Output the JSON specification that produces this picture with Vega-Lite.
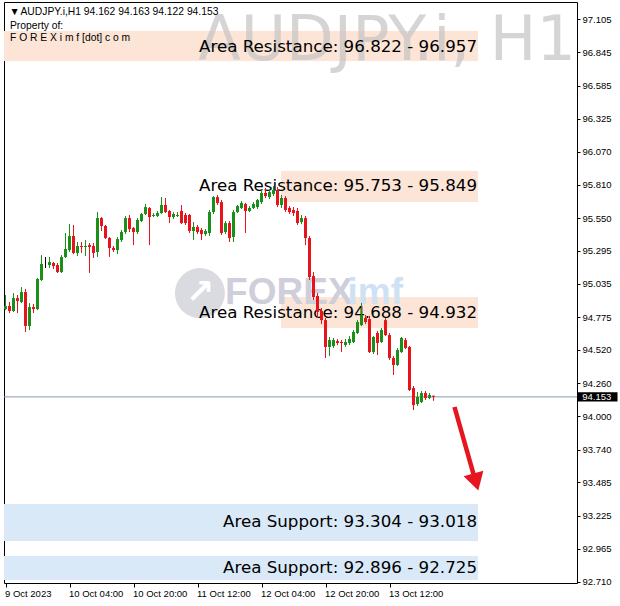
{
  "$schema": "https://vega.github.io/schema/vega-lite/v6.json",
  "width": 573,
  "height": 581,
  "autosize": {"type": "none"},
  "padding": {"left": 4, "top": 2, "right": 43, "bottom": 23},
  "background": "#ffffff",
  "config": {
    "view": {"stroke": "#000000", "strokeWidth": 1},
    "axis": {"grid": false, "domain": false, "labelFont": "Liberation Sans", "labelFontSize": 9.5, "labelColor": "#000000", "tickColor": "#000000"}
  },
  "datasets": {
    "bands": [
      {"t": "2023-10-09T11:37:30Z", "t2": "2023-10-14T10:07:30Z", "p": 97.011, "p2": 96.777, "kind": "Resistance"},
      {"t": "2023-10-12T08:52:30Z", "t2": "2023-10-14T10:07:30Z", "p": 95.917, "p2": 95.675, "kind": "Resistance"},
      {"t": "2023-10-12T08:52:30Z", "t2": "2023-10-14T10:07:30Z", "p": 94.933, "p2": 94.691, "kind": "Resistance"},
      {"t": "2023-10-09T11:37:30Z", "t2": "2023-10-14T10:07:30Z", "p": 93.316, "p2": 93.027, "kind": "Support"},
      {"t": "2023-10-09T11:37:30Z", "t2": "2023-10-14T10:07:30Z", "p": 92.910, "p2": 92.722, "kind": "Support"}
    ],
    "bandLabels": [
      {"t": "2023-10-14T09:52:30Z", "p": 96.886, "label": "Area Resistance: 96.822 - 96.957"},
      {"t": "2023-10-14T09:52:30Z", "p": 95.800, "label": "Area Resistance: 95.753 - 95.849"},
      {"t": "2023-10-14T09:52:30Z", "p": 94.808, "label": "Area Resistance: 94.688 - 94.932"},
      {"t": "2023-10-14T09:52:30Z", "p": 93.175, "label": "Area Support: 93.304 - 93.018"},
      {"t": "2023-10-14T09:52:30Z", "p": 92.816, "label": "Area Support: 92.896 - 92.725"}
    ],
    "header": [
      {"t": "2023-10-09T13:00:00Z", "p": 97.160, "label": "▼"},
      {"t": "2023-10-09T15:45:00Z", "p": 97.160, "label": "AUDJPY.i,H1  94.162 94.163 94.122 94.153"},
      {"t": "2023-10-09T13:07:30Z", "p": 97.052, "label": "Property of:"},
      {"t": "2023-10-09T13:07:30Z", "p": 96.959, "label": "F O R E X i m f [dot] c o m"}
    ],
    "watermark": [
      {"t": "2023-10-15T10:36:00Z", "p": 96.783, "label": "AUDJPY.i,  H1"}
    ],
    "logoCircle": [{"t": "2023-10-11T12:36:00Z", "p": 94.964}],
    "logoArrow": [{"t": "2023-10-11T12:36:00Z", "p": 94.964, "label": "↗"}],
    "logoForex": [{"t": "2023-10-11T18:54:00Z", "p": 94.964, "label": "FOREX"}],
    "logoImf": [{"t": "2023-10-13T01:30:00Z", "p": 94.964, "label": "imf"}],
    "lastPrice": [{"p": 94.153}],
    "priceBox": [{"t": "2023-10-15T11:06:00Z", "t2": "2023-10-15T21:00:00Z", "p": 94.190, "p2": 94.116}],
    "priceBoxText": [{"t": "2023-10-15T12:12:00Z", "p": 94.153, "label": "94.153"}],
    "arrowLine": [{"t": "2023-10-14T04:15:00Z", "t2": "2023-10-14T09:00:00Z", "p": 94.074, "p2": 93.550}],
    "arrowHead": [{"t": "2023-10-14T09:36:00Z", "p": 93.488}],
    "candles": [
      {"t": "2023-10-09T12:00Z", "o": 94.839, "h": 94.949, "l": 94.831, "c": 94.863},
      {"t": "2023-10-09T13:00Z", "o": 94.863, "h": 94.894, "l": 94.808, "c": 94.824},
      {"t": "2023-10-09T14:00Z", "o": 94.824, "h": 94.964, "l": 94.816, "c": 94.925},
      {"t": "2023-10-09T15:00Z", "o": 94.925, "h": 94.949, "l": 94.808, "c": 94.902},
      {"t": "2023-10-09T16:00Z", "o": 94.894, "h": 95.011, "l": 94.886, "c": 94.972},
      {"t": "2023-10-09T17:00Z", "o": 94.972, "h": 94.996, "l": 94.660, "c": 94.707},
      {"t": "2023-10-09T18:00Z", "o": 94.707, "h": 94.886, "l": 94.675, "c": 94.855},
      {"t": "2023-10-09T19:00Z", "o": 94.855, "h": 94.878, "l": 94.808, "c": 94.839},
      {"t": "2023-10-09T20:00Z", "o": 94.839, "h": 95.082, "l": 94.831, "c": 95.074},
      {"t": "2023-10-09T21:00Z", "o": 95.066, "h": 95.261, "l": 95.058, "c": 95.191},
      {"t": "2023-10-09T22:00Z", "o": 95.191, "h": 95.246, "l": 95.160, "c": 95.191},
      {"t": "2023-10-09T23:00Z", "o": 95.183, "h": 95.246, "l": 95.160, "c": 95.207},
      {"t": "2023-10-10T00:00Z", "o": 95.199, "h": 95.207, "l": 95.152, "c": 95.175},
      {"t": "2023-10-10T01:00Z", "o": 95.183, "h": 95.199, "l": 95.121, "c": 95.128},
      {"t": "2023-10-10T02:00Z", "o": 95.128, "h": 95.261, "l": 95.121, "c": 95.246},
      {"t": "2023-10-10T03:00Z", "o": 95.246, "h": 95.433, "l": 95.238, "c": 95.308},
      {"t": "2023-10-10T04:00Z", "o": 95.300, "h": 95.503, "l": 95.285, "c": 95.410},
      {"t": "2023-10-10T05:00Z", "o": 95.410, "h": 95.496, "l": 95.269, "c": 95.277},
      {"t": "2023-10-10T06:00Z", "o": 95.277, "h": 95.363, "l": 95.253, "c": 95.332},
      {"t": "2023-10-10T07:00Z", "o": 95.332, "h": 95.363, "l": 95.277, "c": 95.324},
      {"t": "2023-10-10T08:00Z", "o": 95.324, "h": 95.378, "l": 95.253, "c": 95.332},
      {"t": "2023-10-10T09:00Z", "o": 95.339, "h": 95.355, "l": 95.121, "c": 95.324},
      {"t": "2023-10-10T10:00Z", "o": 95.332, "h": 95.355, "l": 95.238, "c": 95.277},
      {"t": "2023-10-10T11:00Z", "o": 95.285, "h": 95.597, "l": 95.246, "c": 95.550},
      {"t": "2023-10-10T12:00Z", "o": 95.550, "h": 95.558, "l": 95.449, "c": 95.488},
      {"t": "2023-10-10T13:00Z", "o": 95.488, "h": 95.496, "l": 95.386, "c": 95.394},
      {"t": "2023-10-10T14:00Z", "o": 95.394, "h": 95.402, "l": 95.246, "c": 95.316},
      {"t": "2023-10-10T15:00Z", "o": 95.316, "h": 95.332, "l": 95.285, "c": 95.300},
      {"t": "2023-10-10T16:00Z", "o": 95.300, "h": 95.402, "l": 95.269, "c": 95.386},
      {"t": "2023-10-10T17:00Z", "o": 95.378, "h": 95.457, "l": 95.363, "c": 95.441},
      {"t": "2023-10-10T18:00Z", "o": 95.441, "h": 95.566, "l": 95.425, "c": 95.550},
      {"t": "2023-10-10T19:00Z", "o": 95.550, "h": 95.574, "l": 95.441, "c": 95.464},
      {"t": "2023-10-10T20:00Z", "o": 95.472, "h": 95.480, "l": 95.339, "c": 95.441},
      {"t": "2023-10-10T21:00Z", "o": 95.441, "h": 95.550, "l": 95.425, "c": 95.535},
      {"t": "2023-10-10T22:00Z", "o": 95.527, "h": 95.589, "l": 95.519, "c": 95.582},
      {"t": "2023-10-10T23:00Z", "o": 95.582, "h": 95.660, "l": 95.574, "c": 95.636},
      {"t": "2023-10-11T00:00Z", "o": 95.629, "h": 95.636, "l": 95.339, "c": 95.558},
      {"t": "2023-10-11T01:00Z", "o": 95.566, "h": 95.589, "l": 95.558, "c": 95.574},
      {"t": "2023-10-11T02:00Z", "o": 95.566, "h": 95.605, "l": 95.558, "c": 95.589},
      {"t": "2023-10-11T03:00Z", "o": 95.589, "h": 95.714, "l": 95.582, "c": 95.652},
      {"t": "2023-10-11T04:00Z", "o": 95.652, "h": 95.707, "l": 95.589, "c": 95.597},
      {"t": "2023-10-11T05:00Z", "o": 95.605, "h": 95.613, "l": 95.511, "c": 95.558},
      {"t": "2023-10-11T06:00Z", "o": 95.558, "h": 95.597, "l": 95.543, "c": 95.582},
      {"t": "2023-10-11T07:00Z", "o": 95.566, "h": 95.597, "l": 95.558, "c": 95.574},
      {"t": "2023-10-11T08:00Z", "o": 95.605, "h": 95.652, "l": 95.503, "c": 95.511},
      {"t": "2023-10-11T09:00Z", "o": 95.574, "h": 95.589, "l": 95.496, "c": 95.511},
      {"t": "2023-10-11T10:00Z", "o": 95.574, "h": 95.582, "l": 95.433, "c": 95.449},
      {"t": "2023-10-11T11:00Z", "o": 95.449, "h": 95.519, "l": 95.378, "c": 95.480},
      {"t": "2023-10-11T12:00Z", "o": 95.480, "h": 95.496, "l": 95.425, "c": 95.441},
      {"t": "2023-10-11T13:00Z", "o": 95.457, "h": 95.472, "l": 95.378, "c": 95.425},
      {"t": "2023-10-11T14:00Z", "o": 95.425, "h": 95.464, "l": 95.410, "c": 95.449},
      {"t": "2023-10-11T15:00Z", "o": 95.433, "h": 95.613, "l": 95.410, "c": 95.597},
      {"t": "2023-10-11T16:00Z", "o": 95.597, "h": 95.722, "l": 95.582, "c": 95.714},
      {"t": "2023-10-11T17:00Z", "o": 95.714, "h": 95.730, "l": 95.652, "c": 95.668},
      {"t": "2023-10-11T18:00Z", "o": 95.675, "h": 95.691, "l": 95.418, "c": 95.433},
      {"t": "2023-10-11T19:00Z", "o": 95.441, "h": 95.527, "l": 95.425, "c": 95.511},
      {"t": "2023-10-11T20:00Z", "o": 95.511, "h": 95.527, "l": 95.363, "c": 95.394},
      {"t": "2023-10-11T21:00Z", "o": 95.402, "h": 95.613, "l": 95.363, "c": 95.597},
      {"t": "2023-10-11T22:00Z", "o": 95.597, "h": 95.652, "l": 95.589, "c": 95.644},
      {"t": "2023-10-11T23:00Z", "o": 95.629, "h": 95.683, "l": 95.621, "c": 95.668},
      {"t": "2023-10-12T00:00Z", "o": 95.660, "h": 95.668, "l": 95.433, "c": 95.605},
      {"t": "2023-10-12T01:00Z", "o": 95.605, "h": 95.644, "l": 95.597, "c": 95.629},
      {"t": "2023-10-12T02:00Z", "o": 95.629, "h": 95.675, "l": 95.621, "c": 95.660},
      {"t": "2023-10-12T03:00Z", "o": 95.636, "h": 95.699, "l": 95.621, "c": 95.691},
      {"t": "2023-10-12T04:00Z", "o": 95.675, "h": 95.761, "l": 95.660, "c": 95.746},
      {"t": "2023-10-12T05:00Z", "o": 95.746, "h": 95.785, "l": 95.707, "c": 95.722},
      {"t": "2023-10-12T06:00Z", "o": 95.714, "h": 95.777, "l": 95.699, "c": 95.753},
      {"t": "2023-10-12T07:00Z", "o": 95.738, "h": 95.800, "l": 95.722, "c": 95.769},
      {"t": "2023-10-12T08:00Z", "o": 95.769, "h": 95.792, "l": 95.636, "c": 95.652},
      {"t": "2023-10-12T09:00Z", "o": 95.652, "h": 95.730, "l": 95.629, "c": 95.707},
      {"t": "2023-10-12T10:00Z", "o": 95.707, "h": 95.722, "l": 95.597, "c": 95.613},
      {"t": "2023-10-12T11:00Z", "o": 95.629, "h": 95.644, "l": 95.582, "c": 95.597},
      {"t": "2023-10-12T12:00Z", "o": 95.613, "h": 95.636, "l": 95.566, "c": 95.589},
      {"t": "2023-10-12T13:00Z", "o": 95.605, "h": 95.629, "l": 95.496, "c": 95.511},
      {"t": "2023-10-12T14:00Z", "o": 95.519, "h": 95.574, "l": 95.503, "c": 95.550},
      {"t": "2023-10-12T15:00Z", "o": 95.550, "h": 95.566, "l": 95.339, "c": 95.394},
      {"t": "2023-10-12T16:00Z", "o": 95.394, "h": 95.410, "l": 95.066, "c": 95.089},
      {"t": "2023-10-12T17:00Z", "o": 95.097, "h": 95.128, "l": 94.910, "c": 94.933},
      {"t": "2023-10-12T18:00Z", "o": 94.941, "h": 94.964, "l": 94.769, "c": 94.816},
      {"t": "2023-10-12T19:00Z", "o": 94.824, "h": 94.847, "l": 94.722, "c": 94.753},
      {"t": "2023-10-12T20:00Z", "o": 94.753, "h": 94.769, "l": 94.457, "c": 94.543},
      {"t": "2023-10-12T21:00Z", "o": 94.543, "h": 94.621, "l": 94.472, "c": 94.597},
      {"t": "2023-10-12T22:00Z", "o": 94.550, "h": 94.613, "l": 94.535, "c": 94.597},
      {"t": "2023-10-12T23:00Z", "o": 94.589, "h": 94.605, "l": 94.558, "c": 94.574},
      {"t": "2023-10-13T00:00Z", "o": 94.582, "h": 94.597, "l": 94.503, "c": 94.574},
      {"t": "2023-10-13T01:00Z", "o": 94.558, "h": 94.605, "l": 94.543, "c": 94.582},
      {"t": "2023-10-13T02:00Z", "o": 94.574, "h": 94.628, "l": 94.558, "c": 94.605},
      {"t": "2023-10-13T03:00Z", "o": 94.582, "h": 94.675, "l": 94.574, "c": 94.660},
      {"t": "2023-10-13T04:00Z", "o": 94.652, "h": 94.753, "l": 94.644, "c": 94.738},
      {"t": "2023-10-13T05:00Z", "o": 94.714, "h": 94.886, "l": 94.707, "c": 94.792},
      {"t": "2023-10-13T06:00Z", "o": 94.769, "h": 94.792, "l": 94.722, "c": 94.738},
      {"t": "2023-10-13T07:00Z", "o": 94.761, "h": 94.785, "l": 94.496, "c": 94.503},
      {"t": "2023-10-13T08:00Z", "o": 94.503, "h": 94.628, "l": 94.488, "c": 94.621},
      {"t": "2023-10-13T09:00Z", "o": 94.652, "h": 94.668, "l": 94.480, "c": 94.574},
      {"t": "2023-10-13T10:00Z", "o": 94.582, "h": 94.691, "l": 94.574, "c": 94.675},
      {"t": "2023-10-13T11:00Z", "o": 94.753, "h": 94.769, "l": 94.628, "c": 94.636},
      {"t": "2023-10-13T12:00Z", "o": 94.636, "h": 94.652, "l": 94.441, "c": 94.457},
      {"t": "2023-10-13T13:00Z", "o": 94.457, "h": 94.472, "l": 94.324, "c": 94.402},
      {"t": "2023-10-13T14:00Z", "o": 94.402, "h": 94.535, "l": 94.394, "c": 94.519},
      {"t": "2023-10-13T15:00Z", "o": 94.503, "h": 94.621, "l": 94.496, "c": 94.613},
      {"t": "2023-10-13T16:00Z", "o": 94.597, "h": 94.613, "l": 94.527, "c": 94.535},
      {"t": "2023-10-13T17:00Z", "o": 94.543, "h": 94.550, "l": 94.199, "c": 94.207},
      {"t": "2023-10-13T18:00Z", "o": 94.222, "h": 94.238, "l": 94.050, "c": 94.089},
      {"t": "2023-10-13T19:00Z", "o": 94.097, "h": 94.191, "l": 94.082, "c": 94.152},
      {"t": "2023-10-13T20:00Z", "o": 94.113, "h": 94.199, "l": 94.105, "c": 94.183},
      {"t": "2023-10-13T21:00Z", "o": 94.183, "h": 94.199, "l": 94.128, "c": 94.144},
      {"t": "2023-10-13T22:00Z", "o": 94.144, "h": 94.183, "l": 94.136, "c": 94.167},
      {"t": "2023-10-13T23:00Z", "o": 94.162, "h": 94.163, "l": 94.122, "c": 94.153}
    ]
  },
  "encoding": {
    "x": {
      "field": "t",
      "type": "temporal",
      "title": null,
      "scale": {
        "type": "utc",
        "padding": 0,
        "domain": [
          {"year": 2023, "month": 10, "date": 9, "hours": 11, "minutes": 37, "seconds": 30, "utc": true},
          {"year": 2023, "month": 10, "date": 15, "hours": 10, "minutes": 52, "seconds": 30, "utc": true}
        ]
      },
      "axis": {
        "orient": "bottom",
        "values": [
          {"year": 2023, "month": 10, "date": 9, "hours": 12, "utc": true},
          {"year": 2023, "month": 10, "date": 10, "hours": 4, "utc": true},
          {"year": 2023, "month": 10, "date": 10, "hours": 20, "utc": true},
          {"year": 2023, "month": 10, "date": 11, "hours": 12, "utc": true},
          {"year": 2023, "month": 10, "date": 12, "hours": 4, "utc": true},
          {"year": 2023, "month": 10, "date": 12, "hours": 20, "utc": true},
          {"year": 2023, "month": 10, "date": 13, "hours": 12, "utc": true}
        ],
        "labelExpr": "utcFormat(datum.value, '%d') == '09' ? '9 Oct 2023' : utcFormat(datum.value, '%-d %b %H:%M')",
        "labelAlign": "left",
        "labelBaseline": "top",
        "labelPadding": 1,
        "labelOffset": -1,
        "tickSize": 4,
        "labelFlush": false,
        "labelOverlap": false
      }
    },
    "y": {
      "field": "p",
      "type": "quantitative",
      "title": null,
      "scale": {"domain": [92.699, 97.238], "nice": false, "zero": false, "padding": 0},
      "axis": {
        "orient": "right",
        "values": [92.71, 92.965, 93.225, 93.485, 93.74, 94.0, 94.26, 94.52, 94.775, 95.035, 95.295, 95.55, 95.81, 96.07, 96.325, 96.585, 96.845, 97.105],
        "format": ".3f",
        "tickSize": 3,
        "labelPadding": 2,
        "labelAlign": "left",
        "labelBaseline": "middle",
        "labelFlush": false,
        "labelOverlap": false
      }
    }
  },
  "layer": [
    {
      "data": {"name": "bands"},
      "mark": {"type": "rect"},
      "encoding": {
        "x2": {"field": "t2"},
        "y2": {"field": "p2"},
        "color": {"field": "kind", "type": "nominal", "scale": {"domain": ["Resistance", "Support"], "range": ["#fce4d6", "#dae9f8"]}, "legend": null}
      }
    },
    {
      "data": {"name": "watermark"},
      "mark": {"type": "text", "align": "right", "baseline": "alphabetic", "font": "DejaVu Sans", "fontSize": 62, "color": "#c4c4c4", "opacity": 0.7},
      "encoding": {"text": {"field": "label"}}
    },
    {
      "data": {"name": "logoCircle"},
      "mark": {"type": "point", "shape": "circle", "filled": true, "size": 2500, "color": "#d6d6de", "opacity": 0.9},
      "encoding": {}
    },
    {
      "data": {"name": "logoArrow"},
      "mark": {"type": "text", "align": "center", "baseline": "middle", "font": "DejaVu Sans", "fontWeight": "bold", "fontSize": 34, "color": "#ffffff"},
      "encoding": {"text": {"field": "label"}}
    },
    {
      "data": {"name": "logoForex"},
      "mark": {"type": "text", "align": "left", "baseline": "middle", "font": "Liberation Sans", "fontWeight": "bold", "fontSize": 37, "color": "#cfcfdb"},
      "encoding": {"text": {"field": "label"}}
    },
    {
      "data": {"name": "logoImf"},
      "mark": {"type": "text", "align": "left", "baseline": "middle", "font": "Liberation Sans", "fontWeight": "bold", "fontSize": 37, "color": "#cfe2f4"},
      "encoding": {"text": {"field": "label"}}
    },
    {
      "data": {"name": "bandLabels"},
      "mark": {"type": "text", "align": "right", "baseline": "middle", "font": "DejaVu Sans", "fontSize": 16.7, "color": "#000000"},
      "encoding": {"text": {"field": "label"}}
    },
    {
      "data": {"name": "header"},
      "mark": {"type": "text", "align": "left", "baseline": "middle", "font": "Liberation Sans", "fontSize": 10.3, "color": "#000000"},
      "encoding": {"text": {"field": "label"}}
    },
    {
      "data": {"name": "lastPrice"},
      "mark": {"type": "rule", "color": "#8a98a8", "strokeWidth": 1},
      "encoding": {"x": null}
    },
    {
      "data": {"name": "candles"},
      "mark": {"type": "rule", "strokeWidth": 1},
      "encoding": {
        "y": {"field": "l", "type": "quantitative", "title": null},
        "y2": {"field": "h"},
        "color": {"condition": [{"test": "datum.c > datum.o", "value": "#1a8f1a"}, {"test": "datum.c < datum.o", "value": "#e8141c"}], "value": "#000000"}
      }
    },
    {
      "data": {"name": "candles"},
      "mark": {"type": "bar", "width": 3, "minBandSize": 1},
      "encoding": {
        "y": {"field": "o", "type": "quantitative", "title": null},
        "y2": {"field": "c"},
        "color": {"condition": [{"test": "datum.c > datum.o", "value": "#1a8f1a"}, {"test": "datum.c < datum.o", "value": "#e8141c"}], "value": "#000000"}
      }
    },
    {
      "data": {"name": "arrowLine"},
      "mark": {"type": "rule", "color": "#e5161e", "strokeWidth": 4.5},
      "encoding": {"x2": {"field": "t2"}, "y2": {"field": "p2"}}
    },
    {
      "data": {"name": "arrowHead"},
      "mark": {"type": "point", "shape": "triangle-down", "filled": true, "size": 420, "angle": 344, "color": "#e5161e", "opacity": 1},
      "encoding": {}
    },
    {
      "data": {"name": "priceBox"},
      "mark": {"type": "rect", "color": "#000000"},
      "encoding": {"x2": {"field": "t2"}, "y2": {"field": "p2"}}
    },
    {
      "data": {"name": "priceBoxText"},
      "mark": {"type": "text", "align": "left", "baseline": "middle", "font": "Liberation Sans", "fontSize": 9.5, "color": "#ffffff"},
      "encoding": {"text": {"field": "label"}}
    }
  ]
}
